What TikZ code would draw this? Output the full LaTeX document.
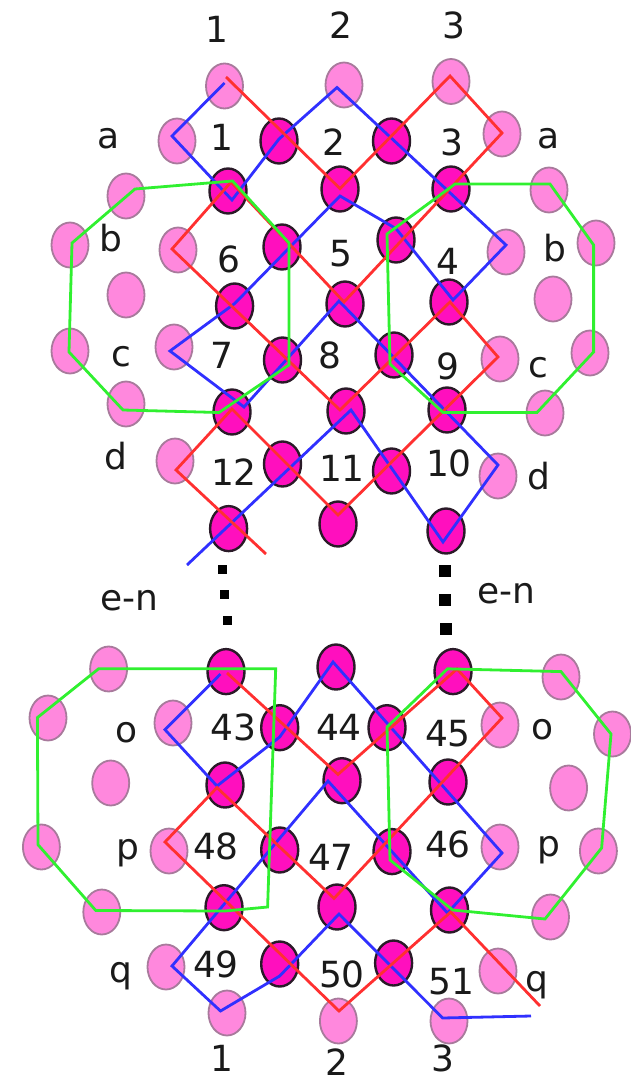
\documentclass[tikz,border=0pt]{standalone}
\usepackage{fontspec}
\setmainfont{DejaVu Sans}
\usetikzlibrary{shapes.geometric}
\definecolor{litefill}{HTML}{FF88DD}
\definecolor{litedraw}{HTML}{A87A9C}
\definecolor{darkfill}{HTML}{FF0FBE}
\definecolor{darkdraw}{HTML}{2A1A28}
\definecolor{lineblue}{HTML}{3030FF}
\definecolor{linered}{HTML}{FF3030}
\definecolor{linegreen}{HTML}{30F030}
\definecolor{txt}{HTML}{1A1A1A}
\tikzset{
  lite/.style={ellipse,fill=litefill,draw=litedraw,line width=1.8pt,minimum width=37pt,minimum height=45pt,inner sep=0pt},
  dark/.style={ellipse,fill=darkfill,draw=darkdraw,line width=2.4pt,minimum width=37pt,minimum height=45pt,inner sep=0pt},
  bluepath/.style={draw=lineblue,line width=2.8pt,line join=miter},
  redpath/.style={draw=linered,line width=2.8pt,line join=miter},
  greenpath/.style={draw=linegreen,line width=2.8pt,line join=miter},
  lab/.style={inner sep=0pt,text=txt,font=\fontsize{36}{38}\selectfont},
  dotl/.style={fill=black,minimum size=9pt,inner sep=0pt},
  dotr/.style={fill=black,minimum size=12pt,inner sep=0pt}
}
\begin{document}
\begin{tikzpicture}[x=1pt,y=-1pt]
\useasboundingbox (0,0) rectangle (631,1083);
% light sites
\foreach \x/\y [count=\i] in {224.5/86,344/85,451/81.5,177/141,502/134,126/196,549/190,70/245,178/250,506/252,596/243,126/295,553/299,70/351,174/347,500/359,590/353,126/404,545/413,175/461,498/476,
108.6/669,561/677,48/718,173/723,500/725,612.5/734,110.7/783,568.6/788,41.4/847,169/851,500/847,598.4/851,101.8/912,550.5/917,166/967,498/971,227/1013,338.4/1021,449/1021}
  \node[lite] (l\i) at (\x,\y) {};
% dark sites
\foreach \x/\y [count=\i] in {279/141,391.5/141,228/191,340/189,451/189,282/247,396/240,234.6/306,345/304,449/302,282.5/360,394/355,232/412,346/411,447/410,282.5/464,391.5/471,228.6/528.6,338/524,446/531,
226/671.6,336/667,453/671.6,279.7/727.7,387/727.7,225/785,342/780.7,448/782,279.7/850,392/851.6,224/907.7,337/907,449.5/910,279.7/964,393.6/963}
  \node[dark] (d\i) at (\x,\y) {};
% blue, top
\draw[bluepath] (224.5,83) -- (172,136) -- (232,200) -- (279,139) -- (337,87.5) -- (506,245) -- (453,300) -- (396,228.6) -- (340,196) -- (234.6,303.6) -- (170,351) -- (244,407) -- (339,301) -- (498,465) -- (443,542) -- (351,410) -- (187,565);
% red, top
\draw[redpath] (226,77) -- (340,188.6) -- (450,76) -- (502,133) -- (344,302) -- (231,182) -- (172,249) -- (340,410) -- (450,302) -- (498,357) -- (338,515) -- (232,409) -- (176,470) -- (266,554);
% green, top
\draw[greenpath] (135,189) -- (232.6,181) -- (289,243) -- (289,365) -- (219,412.5) -- (123,410) -- (69,352) -- (72,243) -- cycle;
\draw[greenpath] (455,184) -- (550,184) -- (593.6,245) -- (593.6,352) -- (537,412.5) -- (443,412.5) -- (390,364) -- (387,234) -- cycle;
% blue, bottom
\draw[bluepath] (220.5,674) -- (165,729.7) -- (217,786) -- (279.7,737) -- (333,662) -- (502,853) -- (447.5,913) -- (328,781) -- (172,966) -- (220.5,1011) -- (279.7,976) -- (339,914) -- (442.7,1018) -- (531,1016);
% red, bottom
\draw[redpath] (227,673) -- (338,774.4) -- (457,669) -- (502,718) -- (334,898.4) -- (217,787.6) -- (165,842) -- (339,1011) -- (450.7,912) -- (540,1006);
% green, bottom
\draw[greenpath] (98.6,668.8) -- (275.7,668.8) -- (267.6,907) -- (225,911) -- (95.8,910.5) -- (38,844.7) -- (37.4,717.6) -- cycle;
\draw[greenpath] (447.5,668.8) -- (561,671.6) -- (611,734) -- (601.6,848) -- (545,919) -- (452.7,910) -- (390,860) -- (387,727) -- cycle;
% dots
\node[dotl] (dl1) at (222.5,569.4) {};
\node[dotl] (dl2) at (224.5,594) {};
\node[dotl] (dl3) at (227,620) {};
\node[dotr] (dr1) at (444.7,571) {};
\node[dotr] (dr2) at (444.7,599.6) {};
\node[dotr] (dr3) at (446,629) {};
% labels
\foreach \x/\y/\t [count=\i] in {217/29/1,341/25/2,453.5/25/3,108.6/139/a,549/139/a,222/137/1,334/142/2,451.5/142/3,111/238/b,555/248/b,228.6/259/6,341/253.6/5,447.5/261/4,121.5/357/c,538/368/c,222/355/7,330/355/8,447.5/366/9,116/456/d,539/476/d,234/472/12,342/468/11,449/463/10,129/600.6/e-n,506/593.7/e-n,126.8/733/o,543/729.4/o,233.4/727/43,339/727/44,448/734/45,127.6/853/p,548.5/850/p,216/846/48,331/857/47,448/844/46,120.7/976/q,537/985/q,216/964/49,342/974/50,451.5/981.5/51,222/1058/1,337/1062/2,442.7/1058/3}
  \node[lab] (t\i) at (\x,\y) {\t};
\end{tikzpicture}
\end{document}
